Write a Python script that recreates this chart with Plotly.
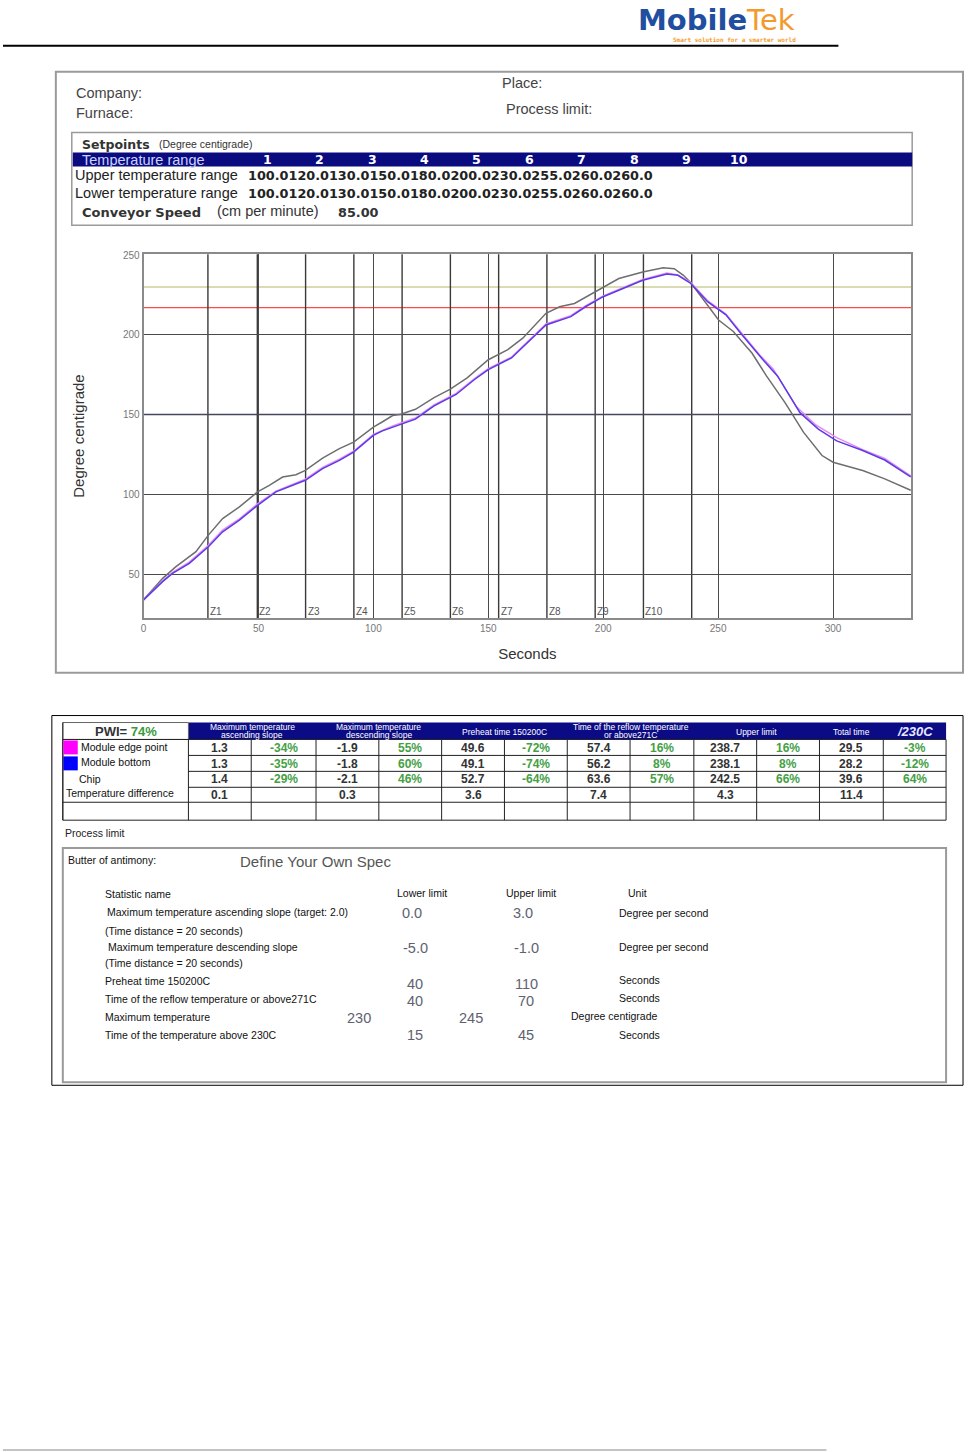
import plotly.graph_objects as go

W, H = 971, 1452
SANS = "Liberation Sans, Arial, sans-serif"
WIDE = "DejaVu Sans, sans-serif"

# ---------------- data ----------------
chip_t = [0, 4, 8.3, 14.1, 22.8, 28.2, 34.4, 41.7, 49.6, 54.7, 60.5, 66.3, 70.4, 77.9, 85.2, 91.4,
          100, 104, 108.4, 111.9, 118.3, 126.4, 133.3, 140.8, 150, 158.5, 165, 175.1, 181, 187.5,
          196.3, 200, 206.8, 217.2, 226.1, 230.9, 234.9, 238.1, 243.7, 250.2, 256.6, 264.7, 271.1,
          279.1, 287.2, 295.2, 300, 312.9, 322.5, 333.8]
chip_v = [33.8, 40, 47.3, 54.6, 64, 74.4, 84.8, 92.1, 101.5, 105.6, 110.8, 112.3, 115, 122.7, 128.6, 132.7,
          142.1, 145.5, 149.4, 150.2, 153.3, 160.6, 165.8, 173, 184.4, 190.7, 197.9, 213.5, 217.6, 219.7,
          227, 230.1, 235.3, 239.4, 242.1, 241.5, 237.3, 232.6, 221.8, 209.3, 202.1, 188.6, 174.1,
          157.5, 138.8, 124.3, 120.1, 114.9, 109.7, 102.5]

bottom_t = [0, 8.3, 12.6, 19.9, 28.2, 34.4, 41.7, 49.6, 57.6, 64.9, 70.4, 77.9, 85.2, 91.4, 100, 103.9,
            108.4, 111.9, 118.3, 126.4, 136, 144, 150, 160.1, 168.2, 175.1, 185.9, 192.3, 200, 208.4,
            217.2, 227.7, 232.5, 238.1, 245.4, 253.4, 259.8, 269.5, 275.9, 285.6, 293.6, 301.6, 312.9,
            322.5, 333.8]
bottom_v = [33.8, 45.2, 50.4, 56.7, 67.1, 76.5, 83.8, 93.1, 101.5, 105.6, 108.8, 116.1, 121.3, 126.5, 136.9,
            139.8, 142.1, 144, 147.1, 155.4, 162.6, 172, 178.2, 185.5, 196.9, 206.2, 211.4, 217.6, 223.9,
            229, 234.2, 238.1, 237.3, 232.2, 220.8, 212.5, 201, 184.4, 174.1, 151.2, 140.9, 133.5, 127.5,
            121.5, 111]

edge_t = [0, 8.3, 12.6, 19.9, 28.2, 34.4, 41.7, 49.6, 57.6, 64.9, 70.4, 77.9, 85.2, 91.4, 100, 108.4,
          118.3, 126.4, 136, 144, 150, 160.1, 168.2, 175.1, 185.9, 192.3, 200, 208.4, 217.2, 227.7,
          232.5, 238.1, 245.4, 253.4, 259.8, 268, 274, 284, 292.5, 301.6, 312.9, 322.5, 333.8]
edge_v = [33.8, 45.8, 51, 57.5, 68, 77.5, 84.6, 94, 102, 106.2, 109.5, 116.8, 122, 127, 137.5, 142.8,
          147.8, 156, 163.3, 172.6, 178.8, 186, 197.4, 206.8, 212, 218.2, 224.4, 229.6, 234.8, 238.7,
          237.6, 232.8, 221.5, 213, 202, 187.5, 178.5, 155, 143.5, 135.5, 128, 122.5, 111.5]

zone_bounds = [28, 49.5, 70.5, 91.5, 112.5, 133.5, 154.5, 175.5, 196.5, 217.5, 238.5]
zone_names = ["Z1", "Z2", "Z3", "Z4", "Z5", "Z6", "Z7", "Z8", "Z9", "Z10"]
liquidus_line = 217
peak_min_line = 230
x_ticks = [0, 50, 100, 150, 200, 250, 300]
y_ticks = [50, 100, 150, 200, 250]

setpoint_zones = ["1", "2", "3", "4", "5", "6", "7", "8", "9", "10"]
upper_setpoints = [100.0, 120.0, 130.0, 150.0, 180.0, 200.0, 230.0, 255.0, 260.0, 260.0]
lower_setpoints = [100.0, 120.0, 130.0, 150.0, 180.0, 200.0, 230.0, 255.0, 260.0, 260.0]
conveyor_speed = 85.00

pwi_value = "74%"
metric_titles = [["Maximum temperature", "ascending slope"],
                 ["Maximum temperature", "descending slope"],
                 ["Preheat time 150200C"],
                 ["Time of the reflow temperature", "or above271C"],
                 ["Upper limit"],
                 ["Total time"]]
last_header = "/230C"
row_names = ["Module edge point", "Module bottom", "Chip", "Temperature difference"]
edge_vals = ["1.3", "-34%", "-1.9", "55%", "49.6", "-72%", "57.4", "16%", "238.7", "16%", "29.5", "-3%"]
bottom_vals = ["1.3", "-35%", "-1.8", "60%", "49.1", "-74%", "56.2", "8%", "238.1", "8%", "28.2", "-12%"]
chip_vals = ["1.4", "-29%", "-2.1", "46%", "52.7", "-64%", "63.6", "57%", "242.5", "66%", "39.6", "64%"]
diff_vals = ["0.1", "", "0.3", "", "3.6", "", "7.4", "", "4.3", "", "11.4", ""]

spec_names = ["Maximum temperature ascending slope (target: 2.0)",
              "Maximum temperature descending slope",
              "Preheat time 150200C",
              "Time of the reflow temperature or above271C",
              "Maximum temperature",
              "Time of the temperature above 230C"]
spec_notes = ["(Time distance = 20 seconds)", "(Time distance = 20 seconds)"]
spec_lower = ["0.0", "-5.0", "40", "40", "230", "15"]
spec_upper = ["3.0", "-1.0", "110", "70", "245", "45"]
spec_units = ["Degree per second", "Degree per second", "Seconds", "Seconds", "Degree centigrade", "Seconds"]

# ---------------- helpers (page layout in pixels) ----------------
def X(px):
    return px / W


def Y(py):
    return 1 - py / H


shapes = []
ann = []


def rect(x0, y0, x1, y1, color="#000", width=1, fill="rgba(0,0,0,0)"):
    shapes.append(dict(type="rect", xref="paper", yref="paper", x0=X(x0), x1=X(x1), y0=Y(y1), y1=Y(y0),
                       line=dict(color=color, width=width), fillcolor=fill))


def hline(x0, x1, y, color="#000", width=1):
    shapes.append(dict(type="line", xref="paper", yref="paper", x0=X(x0), x1=X(x1), y0=Y(y), y1=Y(y),
                       line=dict(color=color, width=width)))


def vline(x, y0, y1, color="#000", width=1):
    shapes.append(dict(type="line", xref="paper", yref="paper", x0=X(x), x1=X(x), y0=Y(y0), y1=Y(y1),
                       line=dict(color=color, width=width)))


def text(x, y, s, size=11, color="#222", anchor="left", family=SANS, angle=0):
    ann.append(dict(xref="paper", yref="paper", x=X(x), y=Y(y), text=s, showarrow=False,
                    xanchor=anchor, yanchor="middle", textangle=angle, borderpad=0,
                    font=dict(family=family, size=size, color=color)))


# ---------------- figure / chart ----------------
fig = go.Figure()
fig.add_trace(go.Scatter(x=chip_t, y=chip_v, mode="lines", name="Chip",
                         line=dict(color="#6e6e6e", width=1.5)))
fig.add_trace(go.Scatter(x=edge_t, y=edge_v, mode="lines", name="Module edge point",
                         line=dict(color="#e58af0", width=1.5)))
fig.add_trace(go.Scatter(x=bottom_t, y=bottom_v, mode="lines", name="Module bottom",
                         line=dict(color="#5b3be6", width=1.5)))

# limit lines
shapes.append(dict(type="line", xref="x domain", yref="y", x0=0, x1=1, y0=peak_min_line, y1=peak_min_line,
                   line=dict(color="#cfcf9a", width=1.3), layer="below"))
shapes.append(dict(type="line", xref="x domain", yref="y", x0=0, x1=1, y0=liquidus_line, y1=liquidus_line,
                   line=dict(color="#ff4a4a", width=1.2), layer="below"))
shapes.append(dict(type="line", xref="x domain", yref="y", x0=0, x1=1, y0=150, y1=150,
                   line=dict(color="#3c3c8c", width=1.4), layer="below"))
# zone boundaries
for i, zb in enumerate(zone_bounds):
    shapes.append(dict(type="line", xref="x", yref="y domain", x0=zb, x1=zb, y0=0, y1=1,
                       line=dict(color="#3a3a3a", width=1.4), layer="below"))
    if i < len(zone_names):
        ann.append(dict(xref="x", yref="paper", x=zb, y=Y(609), text=zone_names[i], showarrow=False,
                        xanchor="left", yanchor="middle", xshift=1, borderpad=0,
                        font=dict(family=SANS, size=10, color="#555")))

fig.update_xaxes(range=[0, 334], domain=[X(141), X(911)], tickvals=x_ticks, showgrid=True,
                 gridcolor="#4a4a4a", gridwidth=1.3, zeroline=False, showline=True, mirror=True,
                 linecolor="#8a8a8a", linewidth=2, ticks="", tickfont=dict(family=SANS, size=10, color="#777"),
                 title=dict(text="Seconds", font=dict(family=SANS, size=15, color="#333"), standoff=16))
fig.update_yaxes(range=[22.5, 250.6], domain=[Y(615), Y(250)], tickvals=y_ticks, showgrid=True,
                 gridcolor="#4a4a4a", gridwidth=1.3, zeroline=False, showline=True, mirror=True,
                 linecolor="#8a8a8a", linewidth=2, ticks="", tickfont=dict(family=SANS, size=10, color="#777"),
                 title=dict(text="Degree centigrade", font=dict(family=SANS, size=15, color="#333"), standoff=35))

# ---------------- page header ----------------
text(636, 15, "<span style='color:#1f4f9e'><b>Mobile</b></span><span style='color:#f39a2c'>Tek</span>",
     size=29, family=WIDE)
text(734, 35, "<b>Smart solution for a smarter world</b>", size=6, color="#f39a2c", anchor="center",
     family="DejaVu Sans Mono, monospace")
hline(0, 838, 41, "#000", 2)
hline(0, 826, 1450, "#888", 1)

# chart frame
rect(53, 67, 963, 670, "#9a9a9a", 2)
text(72, 88, "Company:", 14.5, "#444")
text(72, 108, "Furnace:", 14.5, "#444")
text(500, 78, "Place:", 14.5, "#444")
text(504, 104, "Process limit:", 14.5, "#444")

# setpoints box
rect(69, 128, 912, 221, "#9a9a9a", 1.5)
text(78, 140, "<b>Setpoints</b>", 12.5, "#333", family=WIDE)
text(155, 139, "(Degree centigrade)", 10.5, "#333")
rect(70, 148, 912, 162, "#0b0b80", 0, "#0b0b80")
text(78, 155.5, "Temperature range", 14.5, "#c9d2ff")
for i, z in enumerate(setpoint_zones):
    text(265 + 52.6 * i, 155, "<b>" + z + "</b>", 12.5, "#ffffff", anchor="center", family=WIDE)
text(71, 171, "Upper temperature range", 14.5, "#222")
text(71, 189, "Lower temperature range", 14.5, "#222")
text(245, 171, "<b>" + "".join(f"{v:.1f}" for v in upper_setpoints) + "</b>", 12.8, "#222", family=WIDE)
text(245, 189, "<b>" + "".join(f"{v:.1f}" for v in lower_setpoints) + "</b>", 12.8, "#222", family=WIDE)
text(78, 208, "<b>Conveyor Speed</b>", 13, "#333", family=WIDE)
text(214, 207, "(cm per minute)", 14.5, "#333")
text(335, 208, f"<b>{conveyor_speed:.2f}</b>", 12.8, "#333", family=WIDE)

# ---------------- results table ----------------
rect(49, 713, 963, 1084, "#000", 1)
col_edges = [60, 186, 249, 314, 377, 440, 503, 566, 629, 693, 756, 819, 883, 946]
row_edges = [720, 737, 753, 769, 785, 800, 818]
rect(186, 720, 946, 737, "#0b0b86", 0, "#0b0b86")
rect(60, 720, 186, 737, "#666", 1)
text(123, 729.5, "<b>PWI= </b><span style='color:#3c9a3c'><b>" + pwi_value + "</b></span>", 13, "#333",
     anchor="center")
for g, title in enumerate(metric_titles):
    cx = (col_edges[1 + 2 * g] + col_edges[3 + 2 * g]) / 2
    if g == 5:
        cx = (col_edges[11] + col_edges[12]) / 2
    if len(title) == 2:
        text(cx, 724.5, title[0], 8.5, "#ffffff", anchor="center")
        text(cx, 732.5, title[1], 8.5, "#ffffff", anchor="center")
    else:
        text(cx, 729.5, title[0], 8.5, "#ffffff", anchor="center")
text((col_edges[12] + col_edges[13]) / 2, 729.5, "<b><i>" + last_header + "</i></b>", 13, "#e6e8ff",
     anchor="center")

for x in col_edges:
    vline(x, 737, 818, "#222", 1)
for j, y in enumerate(row_edges[1:]):
    x0 = 60 if y in (737, 800, 818) else 186
    hline(x0, 946, y, "#222", 1)
vline(60, 720, 818, "#222", 1)

rect(60.5, 738, 75, 752, "rgba(0,0,0,0)", 0, "#ff00ff")
rect(60.5, 754, 75, 768, "rgba(0,0,0,0)", 0, "#0000ff")
row_label_x = [77.5, 77.5, 75.5, 62]
row_label_y = [744.5, 760, 777, 791]
for name, lx, ly in zip(row_names, row_label_x, row_label_y):
    text(lx, ly, name, 10.5, "#111")

row_val_y = [746, 761.5, 777, 793]
for vals, vy in zip([edge_vals, bottom_vals, chip_vals, diff_vals], row_val_y):
    for k, v in enumerate(vals):
        if not v:
            continue
        cx = (col_edges[1 + k] + col_edges[2 + k]) / 2
        green = (k % 2 == 1)
        text(cx, vy, "<b>" + v + "</b>", 12, "#44a044" if green else "#333", anchor="center")

# ---------------- process limit ----------------
text(61, 831, "Process limit", 10.5, "#222")
rect(60, 846, 946, 1081, "#9a9a9a", 2)
text(64, 858, "Butter of antimony:", 10.5, "#111")
text(237, 859.5, "Define Your Own Spec", 15, "#555")
text(101, 892, "Statistic name", 10.5, "#111")
text(420, 891.5, "Lower limit", 10.5, "#111", anchor="center")
text(530, 891.5, "Upper limit", 10.5, "#111", anchor="center")
text(636, 891.5, "Unit", 10.5, "#111", anchor="center")

name_y = [910, 945.5, 979, 997, 1015.5, 1034]
name_x = [103, 104, 101.5, 101.5, 101.5, 101.5]
note_y = [929, 961]
low_x = [410, 414, 413, 413, 357, 413]
up_x = [522, 525, 525, 525, 469, 525]
val_y = [911.5, 946.5, 982, 999.5, 1016.5, 1034]
unit_x = [617, 617, 617, 617, 569, 617]
unit_y = [911.5, 945.5, 978, 996, 1014.5, 1034]
for i in range(len(spec_names)):
    text(name_x[i], name_y[i], spec_names[i], 10.5, "#111")
    text(low_x[i], val_y[i], spec_lower[i], 14.5, "#5e6270", anchor="center")
    text(up_x[i], val_y[i], spec_upper[i], 14.5, "#5e6270", anchor="center")
    text(unit_x[i], unit_y[i], spec_units[i], 10.5, "#111")
for ny, note in zip(note_y, spec_notes):
    text(101, ny, note, 10.5, "#111")

fig.update_layout(width=W, height=H, margin=dict(l=0, r=0, t=0, b=0), showlegend=False,
                  paper_bgcolor="white", plot_bgcolor="white", shapes=shapes, annotations=ann,
                  font=dict(family=SANS))
fig.write_html("out.html", config={"displayModeBar": False},
               post_script="document.body.style.margin='0';document.body.style.overflow='hidden';")
